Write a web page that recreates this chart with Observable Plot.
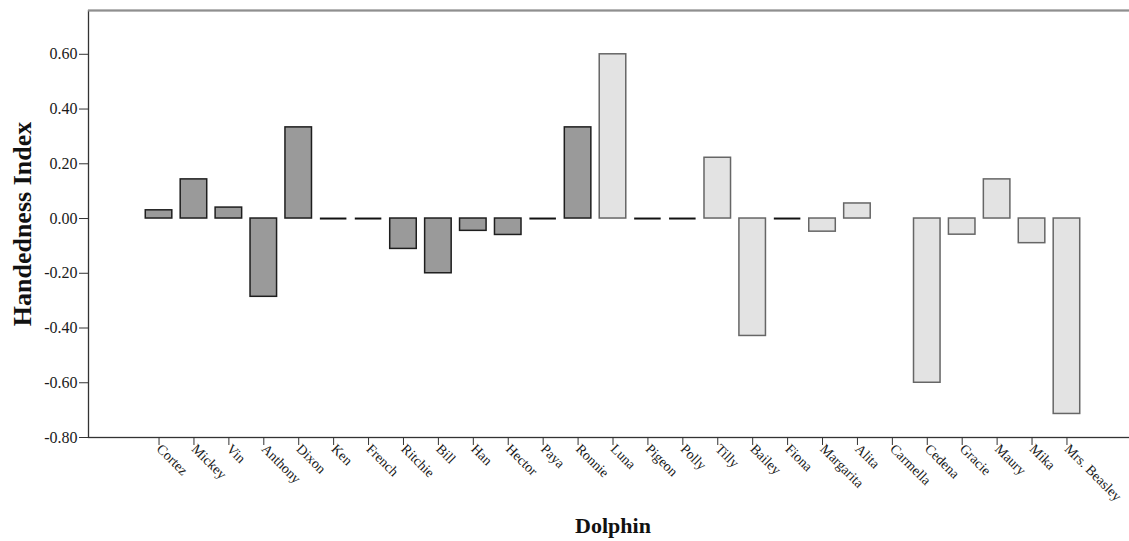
<!DOCTYPE html>
<html>
<head>
<meta charset="utf-8">
<script src="https://cdn.jsdelivr.net/npm/d3@7"></script>
<script src="https://cdn.jsdelivr.net/npm/@observablehq/plot@0.6"></script>
<style>
  html, body { margin: 0; padding: 0; background: #fff; }
  #chart svg { display: block; }
</style>
</head>
<body>
<div id="chart"></div>
<script>
const dolphins = ["Cortez","Mickey","Vin","Anthony","Dixon","Ken","French","Ritchie","Bill","Han","Hector","Paya","Ronnie",
  "Luna","Pigeon","Polly","Tilly","Bailey","Fiona","Margarita","Alita","Carmella","Cedena","Gracie","Maury","Mika","Mrs. Beasley"];
const handedness = [0.03, 0.143, 0.04, -0.286, 0.333, 0, 0, -0.111, -0.2, -0.045, -0.06, 0, 0.333,
  0.60, 0, 0, 0.222, -0.429, 0, -0.048, 0.055, null, -0.60, -0.059, 0.143, -0.09, -0.714];
const groups = ["dark","dark","dark","dark","dark","dark","dark","dark","dark","dark","dark","dark","dark",
  "light","light","light","light","light","light","light","light","light","light","light","light","light","light"];
const yTicks = [-0.8, -0.6, -0.4, -0.2, 0, 0.2, 0.4, 0.6];
const yDomain = [-0.8, 0.76];

const data = dolphins.map((d, i) => ({dolphin: d, value: handedness[i], group: groups[i]}));
const darkBars = data.filter(d => d.group === "dark" && d.value !== null && d.value !== 0);
const lightBars = data.filter(d => d.group === "light" && d.value !== null && d.value !== 0);
const zeroBars = data.filter(d => d.value === 0);

const serif = "'Liberation Serif', 'Times New Roman', serif";

const chart = Plot.plot({
  width: 1129,
  height: 541,
  marginLeft: 88,
  marginRight: -8,
  marginTop: 10,
  marginBottom: 104,
  style: {fontFamily: serif, background: "#fff", color: "#1a1a1a"},
  x: {domain: dolphins, range: [88, 1137], paddingInner: 0.24, paddingOuter: 1.64, align: 0.5, round: false, label: null},
  y: {domain: yDomain, label: null},
  marks: [
    Plot.frame({stroke: "#333", strokeWidth: 1.3}),
    Plot.ruleY([yDomain[1]], {stroke: "#8f8f8f", strokeWidth: 2.2}),
    Plot.barY(darkBars, {x: "dolphin", y: "value", fill: "#9a9a9a", stroke: "#1e1e1e", strokeWidth: 1.5}),
    Plot.barY(lightBars, {x: "dolphin", y: "value", fill: "#e3e3e3", stroke: "#666", strokeWidth: 1.5}),
    Plot.tickY(zeroBars, {x: "dolphin", y: "value", stroke: "#111", strokeWidth: 2}),
    Plot.axisY({ticks: yTicks, tickFormat: d => d.toFixed(2), tickSize: 9, tickPadding: 2, fontSize: 16, fontFamily: serif, label: null, stroke: "#333"}),
    Plot.axisX({tickSize: 8, tickPadding: 1, tickRotate: 45, textAnchor: "start", fontSize: 14, fontFamily: serif, label: null, stroke: "#333"}),
    Plot.text(["Handedness Index"], {frameAnchor: "left", dx: -66, rotate: -90, textAnchor: "middle", fontSize: 26, fontWeight: "bold", fontFamily: serif, fill: "#111"}),
    Plot.text(["Dolphin"], {frameAnchor: "bottom", dy: 95, fontSize: 22, fontWeight: "bold", fontFamily: serif, fill: "#111"})
  ]
});
document.getElementById("chart").append(chart);
</script>
</body>
</html>
